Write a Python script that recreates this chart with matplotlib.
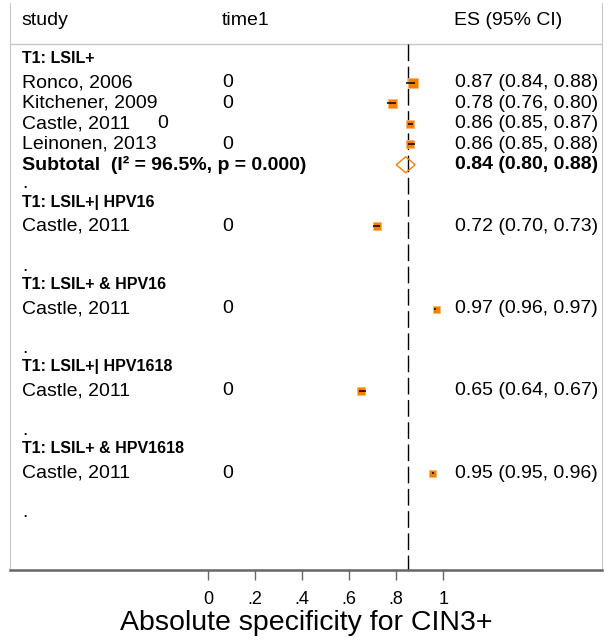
import numpy as np
import matplotlib
matplotlib.use("Agg")
import matplotlib.pyplot as plt

plt.rcParams['font.family'] = ['Liberation Sans', 'DejaVu Sans']

# data
groups = ["T1: LSIL+", "T1: LSIL+| HPV16", "T1: LSIL+ & HPV16",
          "T1: LSIL+| HPV1618", "T1: LSIL+ & HPV1618"]
studies = [["Ronco, 2006", "Kitchener, 2009", "Castle, 2011", "Leinonen, 2013"],
           ["Castle, 2011"], ["Castle, 2011"], ["Castle, 2011"], ["Castle, 2011"]]
es = [[0.87, 0.78, 0.86, 0.86], [0.72], [0.97], [0.65], [0.95]]
lo = [[0.84, 0.76, 0.85, 0.85], [0.70], [0.96], [0.64], [0.95]]
hi = [[0.88, 0.80, 0.87, 0.88], [0.73], [0.97], [0.67], [0.96]]
time1 = [[0, 0, 0, 0], [0], [0], [0], [0]]
sub_es, sub_lo, sub_hi = 0.84, 0.80, 0.88
sub_label = "Subtotal  (I\u00b2 = 96.5%, p = 0.000)"
overall = 0.848
xticks = [0, 0.2, 0.4, 0.6, 0.8, 1.0]
xtick_labels = ["0", ".2", ".4", ".6", ".8", "1"]
box_px = [[10, 9, 8, 8], [8], [7], [8], [7]]

ORANGE = '#f77f00'
FS = 14

fig = plt.figure(figsize=(6.1, 6.4), dpi=100)
ax = fig.add_axes([10/610, 70/640, 592/610, 567/640])
ax.set_xlim((10 - 208.3) / 235, (602 - 208.3) / 235)
ax.set_ylim(24.72, -2.871)

tr = ax.get_yaxis_transform()  # x in axes fraction, y in rows
X_STUDY, X_TIME, X_ES = 0.020, 0.358, 0.750

# header
ax.text(X_STUDY, -2.0, "study", transform=tr, fontsize=FS, va='center')
ax.text(X_TIME, -2.0, "time1", transform=tr, fontsize=FS, va='center')
ax.text(X_ES, -2.0, "ES (95% CI)", transform=tr, fontsize=FS, va='center')
ax.axhline(-0.876, color='#c8c8c8', lw=1)

row = 0
for g, name in enumerate(groups):
    ax.text(X_STUDY, row - 0.18, name, transform=tr, fontsize=11.5,
            fontweight='bold', va='center')
    row += 1
    for i, st in enumerate(studies[g]):
        ax.text(X_STUDY, row, st, transform=tr, fontsize=FS, va='center')
        # first-group Castle sits with its 0 squeezed in, as in the original
        xt = 0.248 if (g == 0 and st.startswith("Castle")) else X_TIME
        ax.text(xt, row, str(time1[g][i]), transform=tr, fontsize=FS, va='center')
        ax.plot(es[g][i], row, marker='s', ms=box_px[g][i] * 0.72,
                mfc=ORANGE, mec='#ffb870', mew=0.6, zorder=3)
        ax.hlines(row, lo[g][i], hi[g][i], color='black', lw=1.1, zorder=4)
        ax.text(X_ES + 0.002, row,
                f"{es[g][i]:.2f} ({lo[g][i]:.2f}, {hi[g][i]:.2f})",
                transform=tr, fontsize=FS, va='center')
        row += 1
    if len(studies[g]) > 1:
        ax.text(X_STUDY, row, sub_label, transform=tr, fontsize=FS,
                fontweight='bold', va='center')
        ax.fill([sub_lo, sub_es, sub_hi, sub_es], [row, row - 0.39, row, row + 0.39],
                facecolor='none', edgecolor=ORANGE, lw=1, zorder=3)
        ax.text(X_ES + 0.002, row, f"{sub_es:.2f} ({sub_lo:.2f}, {sub_hi:.2f})",
                transform=tr, fontsize=FS, fontweight='bold', va='center')
    row += 1
    ax.text(X_STUDY, row + 0.15, ".", transform=tr, fontsize=FS, va='baseline')
    row += 1

ax.vlines(overall, -0.876, 24.72, color='black', lw=1, linestyles=(0, (12, 4)),
          zorder=2)

for s in ['left', 'right']:
    ax.spines[s].set_color('#c8c8c8')
ax.spines['top'].set_visible(False)
ax.spines['bottom'].set_color('#666666')
ax.spines['bottom'].set_linewidth(1.8)

ax.set_yticks([])
ax.set_xticks(xticks)
ax.set_xticklabels(xtick_labels, fontsize=13)
ax.tick_params(axis='x', length=7.2, width=1, color='#666666', pad=8)
ax.set_xlabel("Absolute specificity for CIN3+", fontsize=20.5, labelpad=1)

fig.savefig("out.png", dpi=100)
